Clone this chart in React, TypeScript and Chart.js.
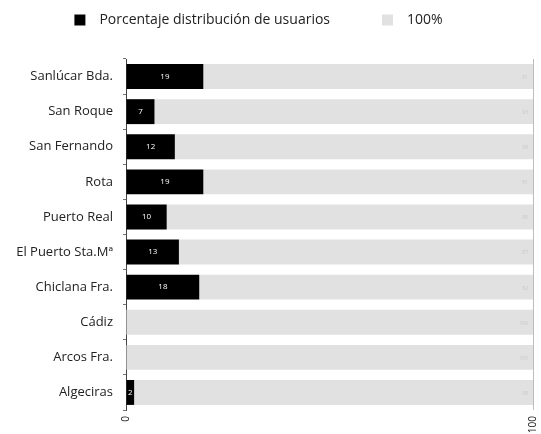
import React, { useEffect, useRef } from "react";
import { Chart, registerables } from "chart.js";

Chart.register(...registerables);

const categories = [
  "Sanlúcar Bda.",
  "San Roque",
  "San Fernando",
  "Rota",
  "Puerto Real",
  "El Puerto Sta.Mª",
  "Chiclana Fra.",
  "Cádiz",
  "Arcos Fra.",
  "Algeciras",
];
const usuarios = [19, 7, 12, 19, 10, 13, 18, 0, 0, 2];
const resto = [81, 93, 88, 81, 90, 87, 82, 100, 100, 98];
const seriesNames = ["Porcentaje distribución de usuarios", "100%"];
const xTicks = [0, 100];

const FONT = "'Open Sans', Lato, sans-serif";

const labelPlugin = {
  id: "barLabels",
  afterDatasetsDraw(chart: any) {
    const ctx = chart.ctx;
    ctx.save();
    ctx.textBaseline = "middle";
    const m0 = chart.getDatasetMeta(0);
    m0.data.forEach((bar: any, i: number) => {
      const v = usuarios[i];
      if (!v) return;
      ctx.fillStyle = "#ffffff";
      ctx.font = `8px ${FONT}`;
      ctx.textAlign = "center";
      ctx.fillText(String(v), (bar.x + bar.base) / 2, bar.y);
    });
    const m1 = chart.getDatasetMeta(1);
    m1.data.forEach((bar: any, i: number) => {
      const v = resto[i];
      ctx.fillStyle = "#c8c8c8";
      ctx.font = `5px ${FONT}`;
      ctx.textAlign = "right";
      ctx.fillText(String(v), bar.x - 5, bar.y + 1);
    });
    ctx.restore();
  },
};

const legendSpacer = {
  id: "legendSpacer",
  beforeInit(chart: any) {
    const orig = chart.legend.fit;
    chart.legend.fit = function fit() {
      orig.bind(chart.legend)();
      this.height += 22;
    };
  },
  afterLayout(chart: any) {
    chart.legend.left = 0;
    chart.legend.right = 517;
  },
};

export default function App() {
  const ref = useRef<HTMLCanvasElement | null>(null);
  useEffect(() => {
    if (!ref.current) return;
    const chart = new Chart(ref.current, {
      type: "bar",
      data: {
        labels: categories,
        datasets: [
          {
            label: seriesNames[0],
            data: usuarios,
            backgroundColor: "#000000",
            borderWidth: 0,
            barPercentage: 0.71,
            categoryPercentage: 1,
          },
          {
            label: seriesNames[1],
            data: resto,
            backgroundColor: "#e1e1e1",
            borderWidth: 0,
            barPercentage: 0.71,
            categoryPercentage: 1,
          },
        ],
      },
      options: {
        indexAxis: "y",
        animation: false,
        responsive: true,
        maintainAspectRatio: false,
        layout: { padding: { top: 3, right: 8, left: 0, bottom: 0 } },
        plugins: {
          tooltip: { enabled: false },
          legend: {
            position: "top",
            labels: {
              boxWidth: 11,
              boxHeight: 11,
              padding: 10,
              color: "#222",
              font: { family: FONT, size: 14 },
              generateLabels(chart: any) {
                return chart.data.datasets.map((ds: any, i: number) => ({
                  text: i === 0 ? "\u2002" + ds.label + "\u2003\u2003\u2002\u2002" : "\u2002" + ds.label,
                  fillStyle: ds.backgroundColor,
                  strokeStyle: ds.backgroundColor,
                  lineWidth: 0,
                  hidden: false,
                  datasetIndex: i,
                  fontColor: "#222",
                }));
              },
            },
          },
        },
        scales: {
          x: {
            stacked: true,
            min: 0,
            max: 100,
            afterBuildTicks(scale: any) {
              scale.ticks = xTicks.map((v) => ({ value: v }));
            },
            afterFit(scale: any) {
              scale.height = 24;
              scale.paddingRight = 0;
              scale.paddingLeft = 0;
            },
            ticks: {
              minRotation: 90,
              maxRotation: 90,
              padding: 6,
              color: "#222",
              font: { family: FONT, size: 10 },
            },
            grid: {
              drawTicks: false,
              color: (c: any) => (c.tick && c.tick.value === 100 ? "#bdbdbd" : "rgba(0,0,0,0)"),
            },
            border: { display: false },
          },
          y: {
            stacked: true,
            afterFit(scale: any) {
              scale.width = 126;
            },
            ticks: {
              padding: 10,
              color: "#222",
              font: { family: FONT, size: 13 },
            },
            grid: {
              offset: true,
              drawOnChartArea: false,
              drawTicks: true,
              tickLength: 3,
              color: "#777",
            },
            border: { display: true, color: "#444", width: 1 },
          },
        },
      },
      plugins: [labelPlugin, legendSpacer],
    });
    return () => chart.destroy();
  }, []);
  return (
    <div style={{ position: "fixed", left: 0, top: 0, width: 541, height: 434, background: "#fff" }}>
      <canvas ref={ref} />
    </div>
  );
}
